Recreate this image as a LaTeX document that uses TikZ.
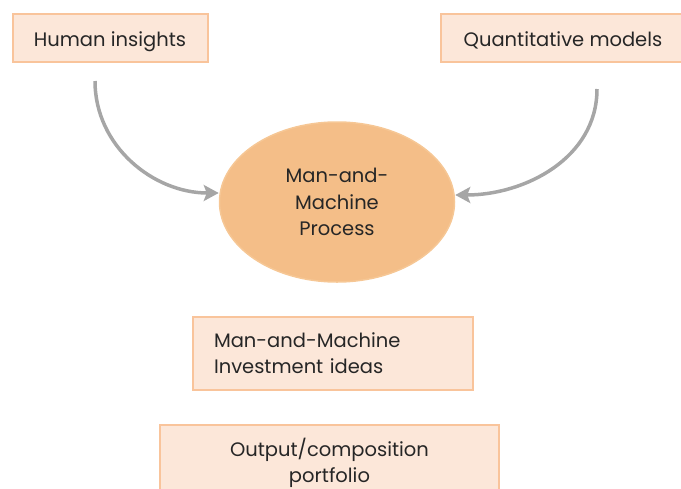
\documentclass[tikz,border=0pt]{standalone}
\usepackage{fontspec}
\setmainfont{Poppins}
\usepackage{tikz}
\usetikzlibrary{arrows.meta, positioning, shapes.geometric}
\usepackage{xcolor}
\definecolor{boxfill}{HTML}{FCE7D9}
\definecolor{boxline}{HTML}{F9C49B}
\definecolor{procfill}{HTML}{F4BE88}
\definecolor{procline}{HTML}{F6C795}
\definecolor{flowgray}{HTML}{A6A6A6}

\begin{document}
\begin{tikzpicture}[x=1pt, y=1pt, node distance=33pt,
  every node/.style={font=\fontsize{19.5}{26.5}\selectfont, text=black!85},
  inbox/.style={draw=boxline, fill=boxfill, line width=2pt, rectangle, inner sep=0pt},
  flow/.style={draw=flowgray, line width=3.5pt, -{Stealth[length=15pt, width=16pt, inset=3pt]}}]
\useasboundingbox (0,0) rectangle (681,-488);
\node (Human) [inbox, minimum width=195pt, minimum height=48pt, text height=17.5pt, text depth=0pt] at (110,-38) {Human insights};
\node (Quant) [inbox, minimum width=244pt, minimum height=48pt, text height=17.5pt, text depth=0pt] at (563,-38) {Quantitative models};
\node (Proc) [ellipse, draw=procline, fill=procfill, line width=1.5pt, minimum width=235pt, minimum height=160pt, align=center, inner sep=0pt] at (337,-202) {Man-and-\\Machine\\Process};
\node (Ideas) [below=of Proc, xshift=-4pt, inbox, minimum width=280pt, minimum height=73pt, text width=238pt, align=left] {Man-and-Machine\\Investment ideas};
\node (Output) [below=33pt of Ideas, xshift=-3.5pt, inbox, minimum width=339pt, minimum height=76pt, align=center] {Output/composition\\portfolio};
\draw[flow] ([xshift=-15pt, yshift=-18pt]Human.south) to[out=-90, in=180] ([yshift=9pt]Proc.west);
\draw[flow] ([xshift=34pt, yshift=-26pt]Quant.south) to[out=-90, in=0] ([yshift=7pt]Proc.east);
\end{tikzpicture}
\end{document}
